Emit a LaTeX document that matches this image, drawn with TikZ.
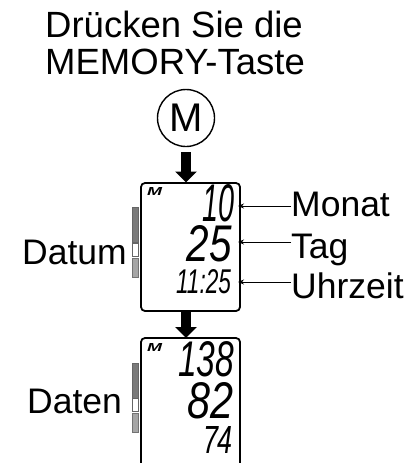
\documentclass[tikz,border=0pt]{standalone}
\usepackage{fontspec}
\setmainfont{Liberation Sans}
\usetikzlibrary{arrows.meta}
\tikzset{
  lbl/.style={font=\fontsize{35.5}{36}\selectfont, inner sep=0pt, anchor=base west},
  head/.style={font=\fontsize{36.5}{37}\selectfont, inner sep=0pt, anchor=base west},
  screen/.style={draw=black, line width=1.8pt, rounded corners=4pt, fill=white},
  bigarrow/.style={line width=9.5pt, -{Triangle[length=11pt,width=21pt]}},
  thinarrow/.style={line width=0.8pt, -{Stealth[length=6pt,width=5pt]}},
  bardark/.style={fill=black!52, draw=black!60, line width=0.5pt},
  barwhite/.style={fill=white, draw=black!60, line width=0.5pt},
  barlight/.style={fill=black!35, draw=black!55, line width=0.5pt},
  lcdtext/.style={inner sep=0pt}
}
\begin{document}
\begin{tikzpicture}[x=1pt,y=-1pt]
\useasboundingbox (0,0) rectangle (420,463);
\node[head] (t1) at (45,37) {Drücken Sie die};
\node[head] (t2) at (45,74) {MEMORY-Taste};
\node[draw=black, line width=1.4pt, circle, minimum size=57pt, inner sep=0pt, font=\fontsize{40}{40}\selectfont] (m) at (186,118) {M};
% screen 1
\node[screen, minimum width=99pt, minimum height=128pt, inner sep=0pt] (s1) at (190.5,247) {};
% screen 2, open at the bottom
\coordinate (s2top) at (186,338);
\draw[black, line width=1.8pt, rounded corners=4pt] (141,464) -- (141,338) -- (240,338) -- (240,464);
\coordinate (s1in) at (186,182.5);
\coordinate (s1out) at (186,311);
\draw[bigarrow, shorten <=5pt] (m.south) -- (s1in);
\draw[bigarrow] (s1out) -- (s2top);
% bars
\path[bardark] (132,207) rectangle (138,242);
\path[barwhite] (132,243) rectangle (138,256);
\path[barlight] (132,258) rectangle (138,277);
\path[bardark] (132,363) rectangle (138,398);
\path[barwhite] (132,398.5) rectangle (138,411);
\path[barlight] (132,413) rectangle (138,432);
% M marks
\node[lcdtext] (ma) at (154.5,191) {\resizebox{15pt}{8pt}{\bfseries\itshape M}};
\node[lcdtext] (mb) at (154.5,347) {\resizebox{15pt}{8pt}{\bfseries\itshape M}};
% readings
\node[lcdtext] (d1) at (219,203.5) {\resizebox{32pt}{37pt}{\itshape 10}};
\node[lcdtext] (d2) at (209.5,244) {\resizebox{45pt}{36pt}{\itshape 25}};
\node[lcdtext] (d3) at (203.5,282) {\resizebox{55pt}{24pt}{\itshape 11:25}};
\node[lcdtext] (d4) at (206,359.5) {\resizebox{56pt}{35pt}{\itshape 138}};
\node[lcdtext] (d5) at (211,401) {\resizebox{46pt}{36pt}{\itshape 82}};
\node[lcdtext] (d6) at (218,439.5) {\resizebox{30pt}{27pt}{\itshape 74}};
% labels
\node[lbl] (monat) at (291,216) {Monat};
\node[lbl] (tag) at (291,258) {Tag};
\node[lbl] (uhr) at (291,298) {Uhrzeit};
\node[lbl] (datum) at (22,264) {Datum};
\node[lbl] (daten) at (27,413) {Daten};
\coordinate (a1) at (238,206);
\coordinate (a2) at (238,242);
\coordinate (a3) at (238,282);
\draw[thinarrow] (monat.west |- a1) -- (a1);
\draw[thinarrow] (tag.west |- a2) -- (a2);
\draw[thinarrow] (uhr.west |- a3) -- (a3);
\end{tikzpicture}
\end{document}
